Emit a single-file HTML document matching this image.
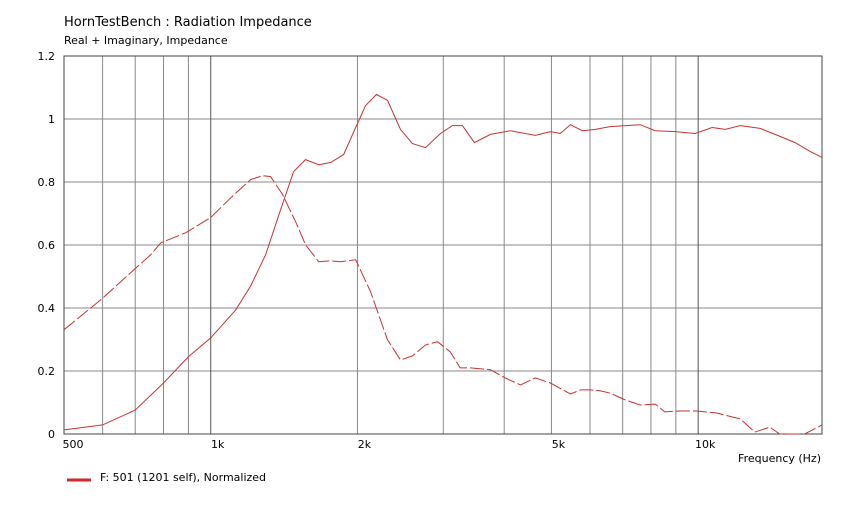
<!DOCTYPE html>
<html><head><meta charset="utf-8"><style>
body{margin:0;background:#fff;}
svg text{font-family:"DejaVu Sans","Liberation Sans",sans-serif;fill:#000;}
</style></head><body>
<svg id="chart" width="844" height="510" xmlns="http://www.w3.org/2000/svg">
<text x="64" y="26" font-size="13">HornTestBench : Radiation Impedance</text>
<text x="64" y="44" font-size="11">Real + Imaginary, Impedance</text>
<g id="grid"></g><g id="axes"></g><g id="series"></g>
<text x="821" y="462" font-size="11" text-anchor="end">Frequency  (Hz)</text>
<line x1="67" y1="480" x2="91" y2="480" stroke="#d02828" stroke-width="3"/>
<text x="100" y="481" font-size="11">F: 501 (1201 self), Normalized</text>
</svg>
<script>
const realFreq=[500,600,700,800,900,1000,1125,1208,1296,1391,1479,1565,1665,1762,1873,1983,2078,2188,2305,2451,2594,2758,2960,3132,3283,3475,3748,4120,4634,4975,5215,5468,5786,6151,6600,7604,8163,8973,9860,10680,11360,12200,13400,14380,15810,16970,17950];
const realVals=[0.013,0.029,0.076,0.162,0.245,0.305,0.394,0.47,0.569,0.712,0.833,0.871,0.855,0.862,0.887,0.973,1.043,1.078,1.059,0.967,0.922,0.909,0.954,0.979,0.979,0.925,0.951,0.963,0.948,0.96,0.954,0.982,0.963,0.967,0.976,0.982,0.963,0.96,0.954,0.973,0.967,0.979,0.970,0.951,0.925,0.897,0.878];
const imagFreq=[500,595,685,753,790,889,1000,1099,1208,1278,1327,1404,1493,1565,1665,1762,1846,1983,2127,2305,2451,2594,2758,2920,3100,3250,3410,3748,4020,4320,4634,4975,5468,5740,6000,6290,6600,7090,7604,8163,8540,9160,9920,10880,12200,13070,14030,14700,16530,17950];
const imagVals=[0.331,0.426,0.512,0.569,0.607,0.639,0.687,0.750,0.808,0.820,0.817,0.760,0.674,0.601,0.547,0.550,0.547,0.553,0.452,0.299,0.235,0.248,0.283,0.293,0.261,0.210,0.210,0.204,0.178,0.156,0.178,0.162,0.127,0.140,0.140,0.137,0.130,0.108,0.092,0.095,0.070,0.073,0.073,0.067,0.048,0.006,0.022,0,0,0.029];
const yTicks=[0,0.2,0.4,0.6,0.8,1,1.2];
const yTickLabels=["0","0.2","0.4","0.6","0.8","1","1.2"];
const xGrid=[600,700,800,900,1000,2000,3000,4000,5000,6000,7000,8000,9000,10000];
const xTicks=[500,1000,2000,5000,10000];
const xTickLabels=["500","1k","2k","5k","10k"];
const L=64,R=822,T=56,B=434;
const fMin=500,fMax=17950;
function xs(f){return L+(Math.log10(f)-Math.log10(fMin))/(Math.log10(fMax)-Math.log10(fMin))*(R-L);}
function ys(v){return B-(v/1.2)*(B-T);}
const NS="http://www.w3.org/2000/svg";
function mk(tag,attrs,parent){const e=document.createElementNS(NS,tag);for(const k in attrs)e.setAttribute(k,attrs[k]);parent.appendChild(e);return e;}
const grid=document.getElementById('grid'),axes=document.getElementById('axes'),series=document.getElementById('series');
yTicks.forEach((v,i)=>{
  const l=mk('line',{x1:L,x2:R,y1:ys(v),y2:ys(v),stroke:'#888','stroke-width':1},grid);
  
  
  const t=mk('text',{x:55,y:ys(v)+4,'font-size':11,'text-anchor':'end'},axes);
  t.textContent=yTickLabels[i];
  
  
});
xGrid.forEach(f=>{
  const dec=(f===1000||f===10000);
  const l=mk('line',{x1:xs(f),x2:xs(f),y1:T,y2:B,stroke:dec?'#555':'#8a8a8a','stroke-width':1},grid);
  
  
});
xTicks.forEach((f,i)=>{
  const t=mk('text',{x:xs(f)+(i===0?9:7),y:448,'font-size':11,'text-anchor':'middle'},axes);
  t.textContent=xTickLabels[i];
  
  
});
const frame=mk('rect',{x:L,y:T,width:R-L,height:B-T,fill:'none',stroke:'#444','stroke-width':1},axes);


function pts(fr,vs){return fr.map((f,i)=>xs(f).toFixed(1)+','+ys(vs[i]).toFixed(1)).join(' ');}
const real=mk('polyline',{points:pts(realFreq,realVals),fill:'none',stroke:'#c83232','stroke-width':1},series);


const imag=mk('polyline',{points:pts(imagFreq,imagVals),fill:'none',stroke:'#c83232','stroke-width':1,'stroke-dasharray':'14 3'},series);


</script>
</body></html>
